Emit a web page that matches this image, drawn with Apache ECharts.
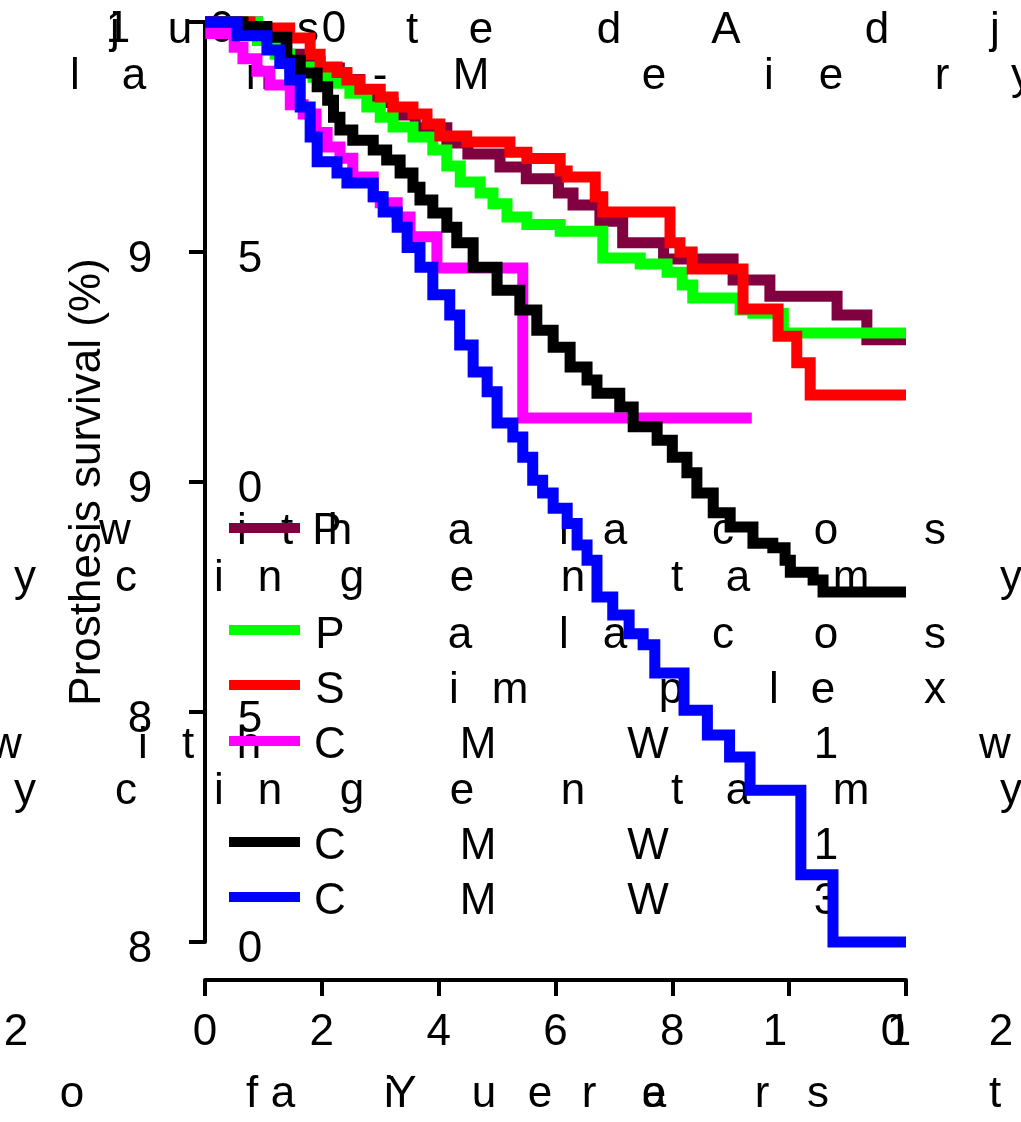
<!DOCTYPE html>
<html><head><meta charset="utf-8">
<script src="https://cdn.jsdelivr.net/npm/echarts@6/dist/echarts.min.js"></script>
<style>html,body{margin:0;padding:0;background:#fff}#c{width:1021px;height:1122px}</style>
</head><body><div id="c"></div>
<script>
// ---- data (years, survival %) ----
const seriesNames = ['Palacos with gentamycin', 'Palacos', 'Simplex', 'CMW1 with gentamycin', 'CMW1', 'CMW3'];
const seriesColors = ['#800040', '#00ff00', '#ff0000', '#ff00ff', '#000000', '#0000ff'];

const tPalacosGenta = [0, 0.9, 1.11, 1.4, 1.7, 1.97, 2.3, 2.65, 2.95, 3.22, 3.6, 4.14, 4.5, 5.05, 5.5, 6.05, 6.3, 6.76, 7.15, 7.85, 9.04, 9.67, 10.82, 11.33, 12];
const sPalacosGenta = [100, 99.6, 99.46, 99.3, 99.15, 99.0, 98.75, 98.52, 98.25, 97.98, 97.7, 97.37, 97.13, 96.85, 96.59, 96.28, 96.02, 95.67, 95.2, 94.85, 94.39, 94.04, 93.63, 93.09, 93.09];

const tPalacos = [0, 0.9, 1.2, 1.45, 1.85, 2.14, 2.48, 2.77, 3.0, 3.22, 3.56, 3.9, 4.14, 4.37, 4.71, 4.93, 5.17, 5.51, 6.08, 6.81, 7.45, 7.91, 8.17, 8.35, 9.16, 9.38, 9.9, 12];
const sPalacos = [100, 99.6, 99.3, 99.02, 98.8, 98.67, 98.45, 98.15, 97.93, 97.72, 97.5, 97.22, 96.87, 96.52, 96.28, 96.05, 95.76, 95.6, 95.45, 94.87, 94.74, 94.56, 94.28, 94.0, 93.74, 93.67, 93.24, 93.24];

const tSimplex = [0, 0.77, 1.45, 1.8, 1.97, 2.26, 2.43, 2.65, 3.0, 3.22, 3.56, 3.8, 4.02, 4.48, 5.22, 5.51, 6.08, 6.2, 6.68, 6.81, 7.96, 8.13, 8.34, 9.21, 9.81, 10.13, 10.36, 12];
const sSimplex = [100, 99.87, 99.65, 99.3, 99.02, 98.9, 98.74, 98.54, 98.37, 98.15, 98.0, 97.78, 97.52, 97.39, 97.17, 97.03, 96.76, 96.63, 96.2, 95.87, 95.2, 95.0, 94.63, 93.76, 93.17, 92.59, 91.89, 91.89];

const tCmw1Genta = [0, 0.1, 0.5, 0.65, 0.89, 1.11, 1.46, 1.68, 1.9, 2.09, 2.31, 2.53, 2.88, 3.0, 3.29, 3.51, 3.97, 5.44, 9.36];
const sCmw1Genta = [100, 99.75, 99.45, 99.2, 98.93, 98.63, 98.2, 98.0, 97.6, 97.28, 97.04, 96.63, 96.2, 96.07, 95.76, 95.33, 94.65, 91.39, 91.39];

const tCmw1 = [0, 0.65, 1.06, 1.4, 1.63, 1.92, 2.1, 2.2, 2.31, 2.53, 2.88, 3.11, 3.34, 3.56, 3.68, 3.9, 4.14, 4.31, 4.59, 5.0, 5.39, 5.68, 5.96, 6.25, 6.54, 6.71, 7.1, 7.33, 7.74, 8.0, 8.25, 8.42, 8.7, 8.99, 9.38, 9.72, 9.93, 10.02, 10.41, 10.58, 12];
const sCmw1 = [100, 99.9, 99.67, 99.17, 98.89, 98.59, 98.3, 97.93, 97.65, 97.43, 97.22, 97.0, 96.72, 96.41, 96.13, 95.85, 95.54, 95.2, 94.67, 94.17, 93.74, 93.3, 92.93, 92.5, 92.22, 91.93, 91.63, 91.2, 90.91, 90.54, 90.2, 89.76, 89.33, 89.02, 88.67, 88.57, 88.3, 88.04, 87.87, 87.61, 87.61];

const tCmw3 = [0, 0.55, 1.06, 1.28, 1.45, 1.63, 1.8, 1.92, 2.26, 2.43, 2.88, 3.05, 3.29, 3.46, 3.68, 3.9, 4.19, 4.36, 4.59, 4.83, 5.0, 5.27, 5.44, 5.61, 5.78, 5.96, 6.2, 6.37, 6.54, 6.71, 6.98, 7.26, 7.5, 7.7, 8.2, 8.6, 8.98, 9.33, 10.2, 10.75, 12];
const sCmw3 = [100, 99.7, 99.39, 99.1, 98.74, 98.15, 97.5, 96.96, 96.72, 96.5, 96.2, 95.87, 95.54, 95.1, 94.67, 94.07, 93.63, 92.98, 92.39, 91.96, 91.28, 90.98, 90.54, 90.04, 89.76, 89.43, 89.1, 88.63, 88.3, 87.5, 87.11, 86.7, 86.46, 85.85, 85.04, 84.5, 84.02, 83.3, 81.46, 80.0, 80.0];

const xTicks = [0, 2, 4, 6, 8, 10, 12];
const yTicks = [80, 85, 90, 95, 100];
const yAxisTitle = 'Prosthesis survival (%)';

// ---- text as it appears (characters spread out) ----
const FONT = 'Liberation Sans';
const titleRow1 = [['j',115],['u',180],['s',308],['t',412],['e',481],['d',609],['A',726],['d',877],['j',995]];
const titleRow2 = [['l',75],['a',134],['n',258],['-',380],['M',471],['e',654],['i',769],['e',831],['r',942],['y',1022]];
const legRow1 = [['w',115],['i',242],['t',287],['P',327],['h',340],['a',460],['l',564],['a',615],['c',723],['o',826],['s',935]];
const legWrap = [['y',25],['c',126],['i',219],['n',270],['g',352],['e',462],['n',573],['t',677],['a',738],['m',851],['y',1011]];
const legRow2 = [['P',330],['a',460],['l',564],['a',615],['c',723],['o',826],['s',935]];
const legRow3 = [['S',330],['i',454],['m',510],['p',671],['l',774],['e',823],['x',935]];
const legRow4 = [['w',6],['i',143],['t',188],['h',249],['C',330],['M',478],['W',648],['1',826],['w',995]];
const legRow5 = [['C',330],['M',478],['W',648],['1',826]];
const legRow6 = [['C',330],['M',478],['W',648],['3',826]];
const xTitleRow = [['o',72],['f',252],['a',283],['i',389],['Y',402],['u',484],['e',540],['r',589],['a',654],['e',654],['r',762],['s',818],['t',995]];
const yTickChars = {100: [['1',118],['0',222],['0',334]], 95: [['9',140],['5',250]], 90: [['9',140],['0',250]], 85: [['8',140],['5',250]], 80: [['8',140],['0',250]]};
const xExtraChars = [['2',16],['1',775],['0',893],['1',899],['2',1001]];

const zip = (t, s) => t.map((v, i) => [v, s[i]]);
const allData = [zip(tPalacosGenta, sPalacosGenta), zip(tPalacos, sPalacos), zip(tSimplex, sSimplex), zip(tCmw1Genta, sCmw1Genta), zip(tCmw1, sCmw1), zip(tCmw3, sCmw3)];

const chart = echarts.init(document.getElementById('c'), null, {renderer: 'canvas'});
chart.setOption({
  animation: false,
  backgroundColor: '#fff',
  grid: {left: 205, right: 115, top: 22, bottom: 180, containLabel: false},
  xAxis: {
    type: 'value', min: 0, max: 12, interval: 2, offset: 38,
    axisLine: {lineStyle: {color: '#000', width: 4}},
    axisTick: {length: 16, lineStyle: {color: '#000', width: 4}},
    splitLine: {show: false},
    axisLabel: {margin: 31, fontSize: 44, fontFamily: FONT, color: '#000',
      formatter: v => (v <= 8 ? String(v) : '')}
  },
  yAxis: {
    type: 'value', min: 80, max: 100, interval: 5,
    name: yAxisTitle, nameLocation: 'middle', nameRotate: 90, nameGap: 95,
    nameTextStyle: {fontSize: 44, fontFamily: FONT, color: '#000'},
    axisLine: {lineStyle: {color: '#000', width: 4}},
    axisTick: {length: 16, lineStyle: {color: '#000', width: 4}},
    splitLine: {show: false},
    axisLabel: {show: false}
  },
  series: allData.map((d, i) => ({
    name: seriesNames[i], type: 'line', step: 'end', data: d, showSymbol: false, symbol: 'none',
    clip: false, lineStyle: {color: seriesColors[i], width: 11, cap: 'butt', join: 'miter'},
    itemStyle: {color: seriesColors[i]}, emphasis: {disabled: true}
  }))
});

function chars(row, y) {
  return row.map(([ch, x]) => ({type: 'text', x: x, y: y, z: 0, silent: true,
    style: {text: ch, fill: '#000', fontSize: 44, fontFamily: FONT, align: 'center', verticalAlign: 'middle'}}));
}
let g = [];
g = g.concat(chars(titleRow1, 31), chars(titleRow2, 77));
g = g.concat(chars(legRow1, 532), chars(legWrap, 579), chars(legRow2, 636), chars(legRow3, 691),
  chars(legRow4, 746), chars(legWrap, 792), chars(legRow5, 847), chars(legRow6, 902));
g = g.concat(chars(xTitleRow, 1095));
yTicks.forEach(v => {
  const py = chart.convertToPixel({yAxisIndex: 0}, v);
  g = g.concat(chars(yTickChars[v], py + 8));
});
g = g.concat(chars(xExtraChars, 1033));
const legendY = [528, 630, 685, 741, 842, 897];
legendY.forEach((y, i) => {
  g.push({type: 'rect', z: 1, silent: true, shape: {x: 229, y: y - 5, width: 71, height: 10}, style: {fill: seriesColors[i]}});
});
chart.setOption({graphic: {elements: g}});
</script></body></html>
